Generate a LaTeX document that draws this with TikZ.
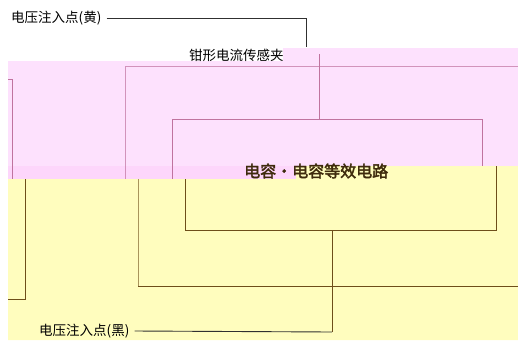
\documentclass[tikz,border=0pt]{standalone}
\usepackage{fontspec}
\newfontfamily\cjk{Noto Sans CJK SC}
\newfontfamily\cjkb[FakeBold=2.5]{Noto Sans CJK SC}
\definecolor{pinkbg}{HTML}{FDE1FD}
\definecolor{pinkband}{HTML}{FDD6FB}
\definecolor{yellowbg}{HTML}{FFFDBE}
\definecolor{pinkline}{HTML}{C0739F}
\definecolor{yellowline}{HTML}{6E4E1A}
\definecolor{leadline}{HTML}{303030}
\definecolor{titlecol}{HTML}{3E2A0C}
\tikzset{
  lbl/.style={font=\cjk\fontsize{13.5}{15}\selectfont, text=black, inner sep=1pt, anchor=west},
  ttl/.style={font=\cjkb\fontsize{16}{18}\selectfont, text=titlecol, inner sep=0pt, anchor=west},
  lead/.style={draw=leadline, line width=0.9pt},
  pline/.style={draw=pinkline, line width=1pt},
  yline/.style={draw=yellowline, line width=1pt},
}
\begin{document}
\begin{tikzpicture}[x=1pt,y=-1pt]
\useasboundingbox (0,0) rectangle (518,340);
\fill[white] (0,0) rectangle (518,340);
% backgrounds
\fill[pinkbg] (8,61) rectangle (518,179);
\fill[pinkbg] (283,48) rectangle (518,61);
\fill[pinkband] (8,166) rectangle (296,179);
\fill[yellowbg] (8,179) -- (296,179) -- (296,166) -- (518,166) -- (518,340) -- (8,340) -- cycle;
% coordinates
\coordinate (yA) at (306,18);
\coordinate (yB) at (306,47);
\coordinate (cA) at (319,54);
\coordinate (cB) at (319,119);
\coordinate (bA) at (332,230);
\coordinate (bB) at (332,332);
% pink region lines
\draw[pline] (8,79) -- (12,79) -- (12,179);
\draw[pline, draw opacity=0.7] (125,179) -- (125,66) -- (518,66);
\draw[pline] (172,179) -- (172,119) -- (482,119) -- (482,166);
\draw[pline] (cA) -- (cB);
% yellow region lines
\draw[yline] (25,179) -- (25,299) -- (8,299);
\draw[yline, draw opacity=0.6] (138,179) -- (138,286);
\draw[yline] (138,286) -- (518,286);
\draw[yline] (185,179) -- (185,230) -- (496,230) -- (496,166);
\draw[yline] (bA) -- (bB);
% labels
\node[lbl] (yl) at (10,18) {电压注入点(黄)};
\draw[lead] ([xshift=4pt]yl.east) -- (yA) -- (yB);
\node[lbl] (cl) at (188,55) {钳形电流传感夹};
\node[lbl] (kl) at (38,331) {电压注入点(黑)};
\draw[lead] ([xshift=4pt]kl.east) -- (bB);
\node[ttl] (tt) at (244,171) {电容·电容等效电路};
\end{tikzpicture}
\end{document}
